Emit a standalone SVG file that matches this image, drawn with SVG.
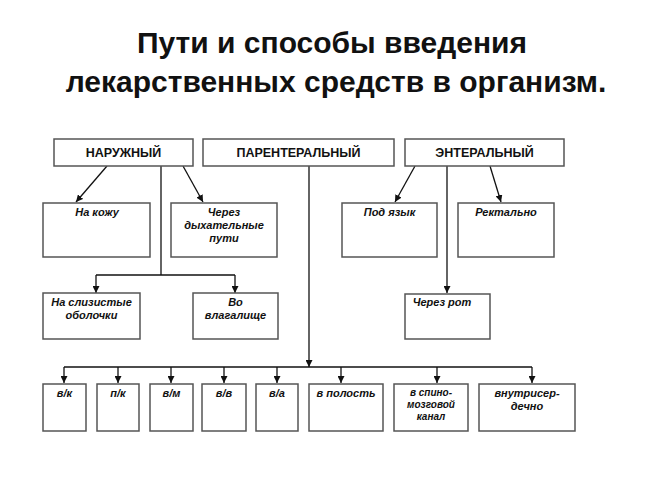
<svg xmlns="http://www.w3.org/2000/svg" width="672" height="483" viewBox="0 0 672 483">
<defs>
<marker id="ah" viewBox="0 0 10 10" refX="10" refY="5" markerWidth="7" markerHeight="7" markerUnits="userSpaceOnUse" orient="auto">
<path d="M0,0 L10,5 L0,10 z" fill="#111"/>
</marker>
<style>
.box{fill:#fff;stroke:#555;stroke-width:1.5}
.hd{font-family:"Liberation Sans",Arial,sans-serif;font-weight:bold;font-size:12.5px;fill:#111;text-anchor:middle}
.lb{font-family:"Liberation Sans",Arial,sans-serif;font-weight:bold;font-style:italic;font-size:11px;fill:#111;text-anchor:middle}
.sm{font-family:"Liberation Sans",Arial,sans-serif;font-weight:bold;font-style:italic;font-size:10px;fill:#111;text-anchor:middle}
.ttl{font-family:"Liberation Sans",Arial,sans-serif;font-weight:bold;font-size:30px;fill:#111;text-anchor:middle}
.ln{fill:none;stroke:#111;stroke-width:1.3}
.ar{fill:none;stroke:#111;stroke-width:1.3;marker-end:url(#ah)}
</style>
</defs>
<rect width="672" height="483" fill="#fff"/>
<g id="title">
<text class="ttl" x="332" y="53">Пути и способы введения</text>
<text class="ttl" x="336" y="92">лекарственных средств в организм.</text>
</g>
<g id="connectors">
<line class="ar" x1="107" y1="166" x2="76" y2="202"/>
<line class="ar" x1="183" y1="166" x2="203" y2="202"/>
<polyline class="ln" points="161,166 161,275"/>
<polyline class="ln" points="96,275 235,275"/>
<line class="ar" x1="96" y1="275" x2="96" y2="293"/>
<line class="ar" x1="235" y1="275" x2="235" y2="293"/>
<line class="ar" x1="415" y1="166" x2="395" y2="202"/>
<line class="ar" x1="490" y1="166" x2="501" y2="202"/>
<line class="ar" x1="447" y1="166" x2="447" y2="293"/>
<line class="ar" x1="309" y1="166" x2="309" y2="367"/>
<polyline class="ln" points="64,367 532,367"/>
<line class="ar" x1="64" y1="367" x2="64" y2="383"/>
<line class="ar" x1="118" y1="367" x2="118" y2="383"/>
<line class="ar" x1="171" y1="367" x2="171" y2="383"/>
<line class="ar" x1="224" y1="367" x2="224" y2="383"/>
<line class="ar" x1="277" y1="367" x2="277" y2="383"/>
<line class="ar" x1="341" y1="367" x2="341" y2="383"/>
<line class="ar" x1="437" y1="367" x2="437" y2="383"/>
<line class="ar" x1="532" y1="367" x2="532" y2="383"/>
</g>
<g id="naruzhny"><rect class="box" x="54" y="139" width="139" height="27"/><text class="hd" x="123.5" y="157">НАРУЖНЫЙ</text></g>
<g id="parenteral"><rect class="box" x="203" y="139" width="191" height="27"/><text class="hd" x="298.5" y="157">ПАРЕНТЕРАЛЬНЫЙ</text></g>
<g id="enteral"><rect class="box" x="405" y="139" width="159" height="27"/><text class="hd" x="484.5" y="157">ЭНТЕРАЛЬНЫЙ</text></g>
<g id="na-kozhu"><rect class="box" x="43" y="203" width="107" height="54"/><text class="lb" x="97" y="216">На кожу</text></g>
<g id="dyhat"><rect class="box" x="171" y="203" width="106" height="54"/><text class="lb" x="224" y="216">Через</text><text class="lb" x="224" y="229">дыхательные</text><text class="lb" x="224" y="242">пути</text></g>
<g id="pod-yazyk"><rect class="box" x="342" y="203" width="95" height="54"/><text class="lb" x="389.5" y="216">Под язык</text></g>
<g id="rektalno"><rect class="box" x="458" y="203" width="96" height="54"/><text class="lb" x="506" y="216">Ректально</text></g>
<g id="slizistye"><rect class="box" x="43" y="293" width="97" height="46"/><text class="lb" x="91.5" y="306">На слизистые</text><text class="lb" x="91.5" y="319">оболочки</text></g>
<g id="vlagalische"><rect class="box" x="193" y="293" width="85" height="46"/><text class="lb" x="235.5" y="306">Во</text><text class="lb" x="235.5" y="319">влагалище</text></g>
<g id="cherez-rot"><rect class="box" x="405" y="294" width="85" height="45"/><text class="lb" x="442" y="306">Через рот</text></g>
<g id="vk"><rect class="box" x="43" y="384" width="43" height="47"/><text class="lb" x="64.5" y="397">в/к</text></g>
<g id="pk"><rect class="box" x="97" y="384" width="42" height="47"/><text class="lb" x="118" y="397">п/к</text></g>
<g id="vm"><rect class="box" x="150" y="384" width="43" height="47"/><text class="lb" x="171.5" y="397">в/м</text></g>
<g id="vv"><rect class="box" x="202" y="384" width="44" height="47"/><text class="lb" x="224" y="397">в/в</text></g>
<g id="va"><rect class="box" x="256" y="384" width="42" height="47"/><text class="lb" x="277" y="397">в/а</text></g>
<g id="polost"><rect class="box" x="309" y="384" width="74" height="47"/><text class="lb" x="346" y="397">в полость</text></g>
<g id="spinno"><rect class="box" x="394" y="384" width="74" height="47"/><text class="sm" x="431" y="396">в спино-</text><text class="sm" x="431" y="408">мозговой</text><text class="sm" x="431" y="420">канал</text></g>
<g id="vnutriserd"><rect class="box" x="479" y="384" width="96" height="47"/><text class="lb" x="527" y="397">внутрисер-</text><text class="lb" x="527" y="410">дечно</text></g>
</svg>
